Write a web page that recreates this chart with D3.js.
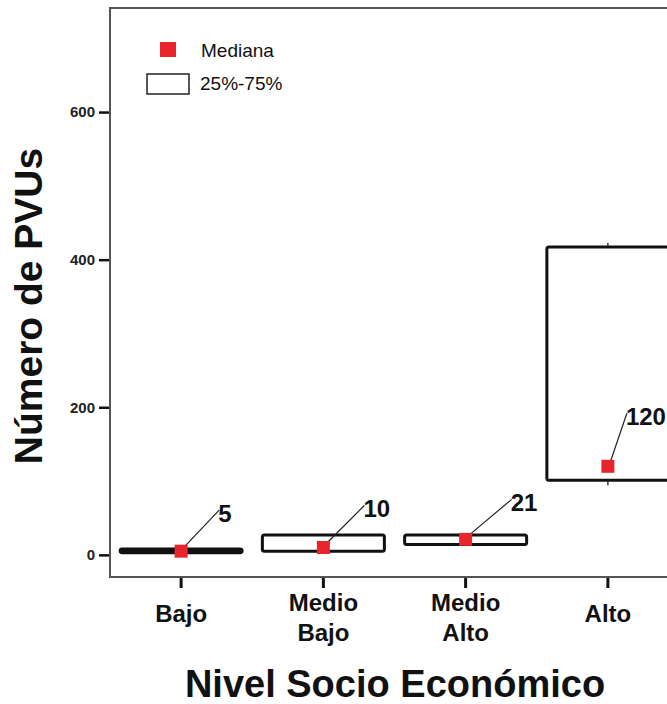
<!DOCTYPE html>
<html>
<head>
<meta charset="utf-8">
<script src="https://cdn.jsdelivr.net/npm/d3@7"></script>
<style>
  body { margin: 0; background: #fff; }
  svg { display: block; font-family: "Liberation Sans", Arial, sans-serif; }
</style>
</head>
<body>
<svg id="chart" width="667" height="704"></svg>
<script>
// values
var categories = ["Bajo", "Medio Bajo", "Medio Alto", "Alto"];
var q1 = [3, 5, 14, 101];
var q3 = [8, 27, 27, 417];
var medians = [5, 10, 21, 120];
var yTicks = [0, 200, 400, 600];

var svg = d3.select("#chart");
var W = 667, H = 704;
var plotLeft = 110, plotTop = 8, plotBottom = 577;
var narrow = "'Liberation Sans Narrow', 'Liberation Sans', Arial, sans-serif";

// y scale
var y = d3.scaleLinear().domain([-30, 741]).range([plotBottom, plotTop]);

// x band scale, last band runs past the right edge like the original
var x = d3.scaleBand().domain(categories).range([plotLeft, plotLeft + 4 * 142.25]).padding(0);
var boxW = 122;

// frame (left + top + bottom)
svg.append("path")
  .attr("d", "M" + W + "," + plotTop + "H" + plotLeft + "V" + plotBottom + "H" + W)
  .attr("fill", "none")
  .attr("stroke", "#555")
  .attr("stroke-width", 2);

// y axis ticks
var yAxis = d3.axisLeft(y).tickValues(yTicks).tickSize(10).tickPadding(4);
var gy = svg.append("g").attr("transform", "translate(" + (plotLeft - 1) + ",0)").call(yAxis);
gy.select(".domain").remove();
gy.selectAll(".tick line").attr("stroke", "#111").attr("stroke-width", 2.5);
gy.selectAll(".tick text").attr("font-size", 15).attr("font-weight", "bold").attr("fill", "#222")
  .attr("font-family", "'Liberation Sans', Arial, sans-serif");

// x axis ticks
var xAxis = d3.axisBottom(x).tickSize(10).tickFormat("");
var gx = svg.append("g").attr("transform", "translate(0," + (plotBottom + 1) + ")").call(xAxis);
gx.select(".domain").remove();
gx.selectAll(".tick line").attr("stroke", "#111").attr("stroke-width", 3);

// category labels (split into lines)
var lab = svg.append("g").selectAll("text").data(categories).join("text")
  .attr("text-anchor", "middle")
  .attr("font-size", 24)
  .attr("font-weight", "bold")
  .attr("fill", "#111")
  .attr("transform", function(d) { return "translate(" + (x(d) + x.bandwidth() / 2) + ",0)"; });
lab.each(function(d) {
  var words = d.split(" ");
  var t = d3.select(this);
  if (words.length == 1) {
    t.append("tspan").attr("x", 0).attr("y", 622).text(d);
  } else {
    t.append("tspan").attr("x", 0).attr("y", 611).text(words[0]);
    t.append("tspan").attr("x", 0).attr("y", 641).text(words[1]);
  }
});

// boxes
var idx = d3.range(categories.length);
var cx = function(i) { return x(categories[i]) + x.bandwidth() / 2; };

svg.append("g").selectAll("rect").data(idx).join("rect")
  .attr("x", function(i) { return cx(i) - boxW / 2; })
  .attr("y", function(i) { return y(q3[i]); })
  .attr("width", boxW)
  .attr("height", function(i) { return y(q1[i]) - y(q3[i]); })
  .attr("rx", 2)
  .attr("fill", function(i) { return i == 0 ? "#111" : "#fff"; })
  .attr("stroke", "#111")
  .attr("stroke-width", 3);

// tiny whisker stubs on the tall box
var last = categories.length - 1;
svg.append("g").selectAll("line").data([q1[last], q3[last]]).join("line")
  .attr("x1", cx(last)).attr("x2", cx(last))
  .attr("y1", function(v, k) { return k == 0 ? y(v) + 1 : y(v) - 1; })
  .attr("y2", function(v, k) { return k == 0 ? y(v) + 5 : y(v) - 4; })
  .attr("stroke", "#333").attr("stroke-width", 1.5);

// leader lines + median labels
var labelOff = [[37, -29], [40, -30], [45, -28], [18, -41]];

svg.append("g").selectAll("line").data(idx).join("line")
  .attr("x1", function(i) { return cx(i) + 2; })
  .attr("y1", function(i) { return y(medians[i]) - 3; })
  .attr("x2", function(i) { return cx(i) + labelOff[i][0] + 1; })
  .attr("y2", function(i) { return y(medians[i]) + labelOff[i][1] - 12; })
  .attr("stroke", "#222")
  .attr("stroke-width", 1.2);

svg.append("g").selectAll("rect").data(idx).join("rect")
  .attr("x", function(i) { return cx(i) - 6.5; })
  .attr("y", function(i) { return y(medians[i]) - 6.5; })
  .attr("width", 13)
  .attr("height", 13)
  .attr("fill", "#e8242c");

svg.append("g").selectAll("text").data(idx).join("text")
  .attr("x", function(i) { return cx(i) + labelOff[i][0]; })
  .attr("y", function(i) { return y(medians[i]) + labelOff[i][1]; })
  .attr("font-size", 24)
  .attr("font-weight", "bold")
  .attr("font-family", narrow)
  .attr("fill", "#111")
  .text(function(i) { return medians[i]; });

// legend
var leg = svg.append("g");
leg.append("rect").attr("x", 160).attr("y", 42).attr("width", 16).attr("height", 15).attr("fill", "#e8242c");
leg.append("text").attr("x", 201).attr("y", 57).attr("font-size", 19).attr("fill", "#111").text("Mediana");
leg.append("rect").attr("x", 147).attr("y", 74).attr("width", 42).attr("height", 20)
  .attr("fill", "#fff").attr("stroke", "#222").attr("stroke-width", 1.5);
leg.append("text").attr("x", 200).attr("y", 90).attr("font-size", 19).attr("fill", "#111").text("25%-75%");

// axis titles
svg.append("text")
  .attr("transform", "translate(42,306) rotate(-90)")
  .attr("text-anchor", "middle")
  .attr("font-size", 39)
  .attr("font-weight", "bold")
  .attr("fill", "#111")
  .text("Número de PVUs");

svg.append("text")
  .attr("x", 395)
  .attr("y", 697)
  .attr("text-anchor", "middle")
  .attr("font-size", 38)
  .attr("font-weight", "bold")
  .attr("fill", "#111")
  .text("Nivel Socio Económico");
</script>
</body>
</html>
